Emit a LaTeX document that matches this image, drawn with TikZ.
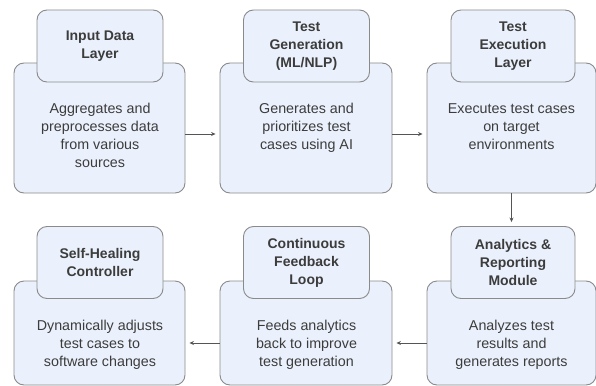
\documentclass[tikz,border=0pt]{standalone}
\usepackage{fontspec}
\setmainfont{Liberation Sans}
\usetikzlibrary{arrows.meta,calc}
\definecolor{boxfill}{HTML}{EBF1FC}
\definecolor{boxline}{HTML}{8A8A8A}
\definecolor{txt}{HTML}{3C3C3C}
\definecolor{arr}{HTML}{555555}
\tikzset{
  bigbox/.style={draw=boxline, fill=boxfill, line width=0.9pt, rounded corners=10pt, inner sep=0pt},
  headbox/.style={draw=boxline, fill=boxfill, line width=0.9pt, rounded corners=10pt, inner sep=0pt, minimum width=126pt, font=\fontsize{14}{18}\selectfont\bfseries, text=txt, align=center},
  bodytext/.style={anchor=north, inner sep=0pt, align=center, text=txt, font=\fontsize{14.3}{18}\selectfont},
  flow/.style={draw=arr, line width=0.8pt, -{Stealth[length=4.5pt,width=4pt]}, shorten >=4pt}
}
\begin{document}
\begin{tikzpicture}[x=1pt,y=1pt]
\useasboundingbox (0,0) rectangle (596,-385);
% top row
\node[bigbox, minimum width=171pt, minimum height=130pt] (b1) at (99.5,-128) {};
\node[bigbox, minimum width=172pt, minimum height=130pt] (b2) at (306,-128) {};
\node[bigbox, minimum width=169pt, minimum height=130pt] (b3) at (511.5,-128) {};
\node[headbox, minimum height=72pt] (h1) at (100,-46) {Input Data\\Layer};
\node[headbox, minimum height=72pt] (h2) at (306.5,-46) {Test\\Generation\\(ML/NLP)};
\node[headbox, minimum width=124pt, minimum height=72pt] (h3) at (513,-46) {Test\\Execution\\Layer};
\node[bodytext] (t1) at (100,-103) {Aggregates and\\preprocesses data\\from various\\sources};
\node[bodytext] (t2) at (306.5,-103) {Generates and\\prioritizes test\\cases using AI};
\node[bodytext] (t3) at (511.5,-103) {Executes test cases\\on target\\environments};
% bottom row
\node[bigbox, minimum width=169pt, minimum height=104pt] (b4) at (511.5,-333) {};
\node[bigbox, minimum width=172pt, minimum height=104pt] (b5) at (306,-333) {};
\node[bigbox, minimum width=171pt, minimum height=104pt] (b6) at (99.5,-333) {};
\node[headbox, minimum width=124pt, minimum height=72pt] (h4) at (513,-262.5) {Analytics \&\\Reporting\\Module};
\node[headbox, minimum height=72pt] (h5) at (306.5,-262.5) {Continuous\\Feedback\\Loop};
\node[headbox, minimum height=72pt] (h6) at (100,-262.5) {Self-Healing\\Controller};
\node[bodytext] (t4) at (511.5,-320) {Analyzes test\\results and\\generates reports};
\node[bodytext] (t5) at (306.5,-320) {Feeds analytics\\back to improve\\test generation};
\node[bodytext] (t6) at (100,-320) {Dynamically adjusts\\test cases to\\software changes};
% connectors
\draw[flow] ($(b1.east)+(0,-6)$) -- ($(b2.west)+(0,-6)$);
\draw[flow] ($(b2.east)+(0,-6)$) -- ($(b3.west)+(0,-6)$);
\draw[flow] (b3.south) -- (b3.south |- h4.north);
\draw[flow] ($(b4.west)+(0,-10)$) -- ($(b5.east)+(0,-10)$);
\draw[flow] ($(b5.west)+(0,-10)$) -- ($(b6.east)+(0,-10)$);
\end{tikzpicture}
\end{document}
